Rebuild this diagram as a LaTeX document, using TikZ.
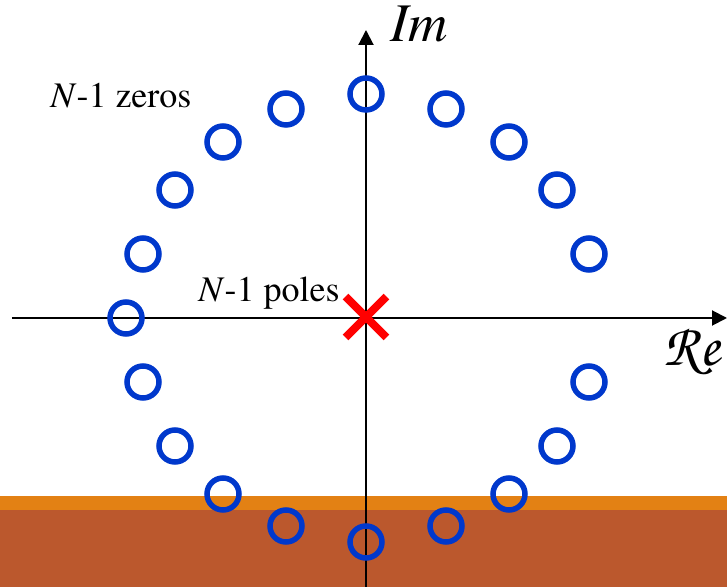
\documentclass[tikz,border=0pt]{standalone}
\usepackage{fontspec}
\usepackage[T1,TU]{fontenc}
\usepackage{tikz}
\usetikzlibrary{shapes.misc, arrows.meta, positioning}
\definecolor{zblue}{RGB}{0,56,204}
\definecolor{bandlight}{RGB}{227,129,20}
\definecolor{banddark}{RGB}{187,88,45}

\begin{document}
\begin{tikzpicture}[x=0.02cm, y=0.02cm,
  zero/.style={circle, draw=zblue, line width=0.11cm, minimum size=0.64cm, inner sep=0pt},
  pole/.style={cross out, draw=red, line width=0.16cm, minimum size=0.66cm, inner sep=0pt},
  axis/.style={line width=0.04cm, -{Triangle[length=0.3cm,width=0.3cm]}},
  lbl/.style={inner sep=0pt, anchor=base west, font=\fontsize{20.5}{24}\usefont{T1}{ptm}{m}{n}}
]
\useasboundingbox (-366,-269) rectangle (361,318);
% ground bands
\fill[bandlight] (-366,-178) rectangle (361,-192);
\fill[banddark] (-366,-192) rectangle (361,-269);

% axes
\coordinate (xs) at (-354,0);
\coordinate (xe) at (361,0);
\coordinate (ys) at (0,-269);
\coordinate (ye) at (0,288);
\draw[axis] (xs) -- (xe);
\draw[axis] (ys) -- (ye);
\node[inner sep=0pt, anchor=base west, font=\fontsize{31}{34}\usefont{T1}{ptm}{m}{it}] (im) at (24,276) {Im};
\node[inner sep=0pt, font=\fontsize{34}{38}\usefont{T1}{pzc}{mb}{it}] (re) at (326,-33) {Re};

% zeros
\foreach \x/\y [count=\i] in {0/224, 80/209, 143/176, 191/128, 223/64,
    223/-64, 191/-128, 143/-176, 80/-208, 0/-224, -80/-208, -143/-176,
    -191/-128, -223/-64, -240/0, -223/64, -191/128, -143/176, -80/209}
  \node[zero] (z\i) at (\x,\y) {};

% pole
\node[pole] (p) at (0,1) {};
\node[lbl] (zl) at (-316,210) {\textit{N}-1 zeros};
\node[lbl] (pl) at (-168,16) {\textit{N}-1 poles};
\end{tikzpicture}
\end{document}
